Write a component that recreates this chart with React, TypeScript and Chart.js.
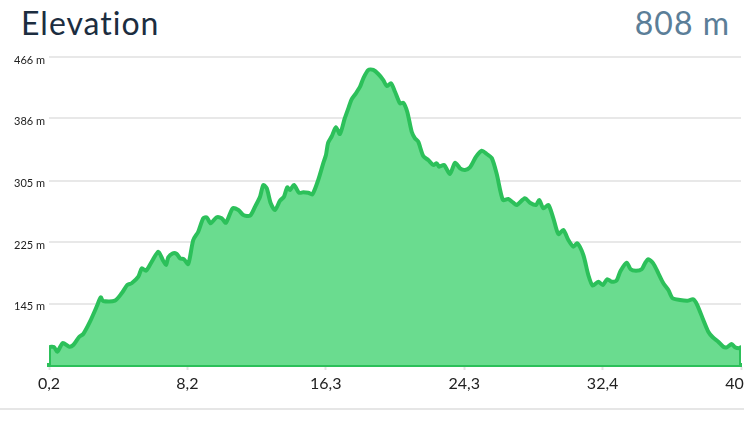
import React, { useEffect, useRef } from "react";
import { Chart, registerables } from "chart.js";

Chart.register(...registerables);

const TITLE = "Elevation";
const TOTAL_ASCENT = "808 m";

const GROUND = 65;
const Y_MIN = 65;
const Y_MAX = 466;
const X_MIN = 0.2;
const X_MAX = 40.4;

const distances = [
  0.2, 0.49, 0.68, 1.0, 1.38, 1.61, 1.96, 2.19, 2.58, 3.01, 3.2, 3.35, 4.03, 4.42, 4.75, 5.0, 5.39, 5.59, 5.84, 6.17,
  6.55, 6.81, 7.0, 7.13, 7.39, 7.62, 7.81, 8.04, 8.29, 8.58, 8.87, 9.16, 9.36, 9.59, 9.94, 10.23, 10.48, 10.87, 11.2,
  11.49, 11.88, 12.17, 12.46, 12.65, 12.85, 13.08, 13.33, 13.62, 13.85, 14.04, 14.2, 14.43, 14.72, 14.97, 15.26, 15.5,
  15.84, 16.13, 16.29, 16.41, 16.62, 16.87, 17.1, 17.37, 17.59, 17.78, 18.03, 18.27, 18.46, 18.75, 19.04, 19.33, 19.62,
  19.82, 20.07, 20.3, 20.59, 20.78, 21.01, 21.27, 21.46, 21.65, 21.94, 22.23, 22.53, 22.72, 22.87, 23.15, 23.49, 23.79,
  24.08, 24.37, 24.66, 25.01, 25.34, 25.63, 25.92, 26.21, 26.57, 26.88, 27.17, 27.37, 27.85, 28.14, 28.49, 28.68, 28.92,
  29.21, 29.5, 29.79, 30.08, 30.37, 30.66, 30.89, 31.24, 31.53, 31.78, 32.11, 32.37, 32.62, 32.89, 33.17, 33.4, 33.76,
  33.99, 34.3, 34.63, 34.82, 35.01, 35.3, 35.6, 35.89, 36.18, 36.43, 36.86, 37.28, 37.63, 37.86, 38.21, 38.5, 38.76,
  39.08, 39.37, 39.57, 39.86, 40.05, 40.3, 40.4,
];

const elevations = [
  87.5, 88.4, 82.3, 93.6, 88.8, 91.0, 101.8, 105.4, 121.4, 143.1, 153.1, 148.3, 148.7, 158.3, 169.2, 171.4, 180.0,
  190.9, 187.8, 199.5, 212.5, 201.7, 195.2, 205.2, 210.4, 209.5, 203.9, 202.6, 196.5, 227.7, 238.5, 256.0, 257.3, 249.5,
  257.3, 256.0, 250.3, 269.0, 266.8, 260.3, 259.4, 271.1, 284.1, 299.3, 295.0, 275.5, 266.8, 278.9, 284.1, 296.3, 292.8,
  299.3, 289.3, 289.8, 289.3, 287.2, 305.9, 327.6, 338.4, 354.0, 362.5, 374.5, 365.7, 385.3, 399.2, 410.9, 418.7, 427.3,
  438.3, 449.1, 449.1, 443.9, 436.0, 428.2, 431.7, 420.8, 405.7, 406.5, 394.8, 368.7, 360.1, 355.7, 337.1, 331.9, 325.4,
  327.6, 323.2, 325.4, 313.7, 328.4, 321.1, 318.9, 322.4, 336.2, 344.0, 339.7, 334.5, 313.7, 279.8, 281.1, 276.3, 273.3,
  282.0, 276.3, 273.3, 279.8, 269.0, 273.3, 256.0, 235.5, 240.8, 227.7, 219.0, 223.4, 208.2, 182.2, 168.5, 173.4, 169.2,
  176.6, 173.4, 175.0, 187.4, 198.2, 189.6, 187.8, 189.6, 197.4, 202.6, 197.4, 184.4, 171.4, 162.6, 151.8, 149.6, 148.7,
  150.5, 143.1, 123.6, 108.4, 101.1, 95.3, 88.8, 88.0, 92.3, 88.0, 86.7, 88.0,
];

const xTickValues = [0.2, 8.24, 16.28, 24.32, 32.36, 40.4];
const xTickLabels = ["0,2", "8,2", "16,3", "24,3", "32,4", "40,4"];
const yTickValues = [145, 225, 305, 386, 466];
const yTickLabels = ["145 m", "225 m", "305 m", "386 m", "466 m"];

const LINE_COLOR = "#2cc05a";
const FILL_COLOR = "#6adc8f";

export default function App() {
  const canvasRef = useRef<HTMLCanvasElement | null>(null);

  useEffect(() => {
    if (!canvasRef.current) return;
    const points = [
      { x: distances[0], y: GROUND },
      ...distances.map((d, i) => ({ x: d, y: elevations[i] })),
      { x: distances[distances.length - 1], y: GROUND },
    ];
    const chart = new Chart(canvasRef.current, {
      type: "line",
      data: {
        datasets: [
          {
            data: points,
            borderColor: LINE_COLOR,
            backgroundColor: FILL_COLOR,
            borderWidth: 4,
            fill: "start",
            pointRadius: 0,
            tension: 0.25,
            borderJoinStyle: "round",
          },
        ],
      },
      options: {
        animation: false,
        responsive: true,
        maintainAspectRatio: false,
        layout: { padding: { top: 17, right: 3, left: 0, bottom: 0 } },
        plugins: { legend: { display: false }, tooltip: { enabled: false } },
        scales: {
          x: {
            type: "linear",
            min: X_MIN,
            max: X_MAX,
            afterBuildTicks: (scale: any) => {
              scale.ticks = xTickValues.map((v) => ({ value: v }));
            },
            afterFit: (scale: any) => {
              scale.height = 45;
              scale.paddingLeft = 0;
              scale.paddingRight = 0;
            },
            ticks: {
              autoSkip: false,
              maxRotation: 0,
              padding: 4,
              color: "#222",
              font: { family: "Lato", size: 16 },
              callback: (_v: any, i: number) => xTickLabels[i],
            },
            grid: {
              drawOnChartArea: false,
              drawTicks: true,
              tickLength: 5,
              tickColor: "#e2e2e2",
              tickWidth: 2,
            },
            border: { display: true, color: LINE_COLOR, width: 4 },
          },
          y: {
            type: "linear",
            min: Y_MIN,
            max: Y_MAX,
            afterBuildTicks: (scale: any) => {
              scale.ticks = yTickValues.map((v) => ({ value: v }));
            },
            afterFit: (scale: any) => {
              scale.width = 49;
              scale.paddingTop = 0;
              scale.paddingBottom = 0;
            },
            ticks: {
              autoSkip: false,
              padding: 4,
              labelOffset: 3,
              color: "#222",
              font: { family: "Lato", size: 11 },
              callback: (_v: any, i: number) => yTickLabels[i],
            },
            grid: {
              drawTicks: false,
              color: "#e8e8e8",
              lineWidth: 2,
            },
            border: { display: false },
          },
        },
      },
    });
    return () => chart.destroy();
  }, []);

  return (
    <div
      style={{
        position: "fixed",
        left: 0,
        top: 0,
        width: 744,
        height: 447,
        overflow: "hidden",
        background: "#fff",
        fontFamily: "Lato, sans-serif",
      }}
    >
      <div
        style={{
          position: "absolute",
          left: 21,
          top: 7,
          fontSize: 32,
          lineHeight: 1,
          letterSpacing: 1,
          color: "#1c2d40",
          whiteSpace: "nowrap",
        }}
      >
        {TITLE}
      </div>
      <div
        style={{
          position: "absolute",
          right: 14,
          top: 7,
          fontSize: 32,
          lineHeight: 1,
          letterSpacing: 1,
          color: "#5b7e98",
          whiteSpace: "nowrap",
        }}
      >
        {TOTAL_ASCENT}
      </div>
      <div style={{ position: "absolute", left: 0, top: 40, width: 744, height: 370 }}>
        <canvas ref={canvasRef} />
      </div>
      <div
        style={{
          position: "absolute",
          left: 0,
          top: 408,
          width: 744,
          height: 2,
          background: "#e6e6e6",
        }}
      />
    </div>
  );
}
